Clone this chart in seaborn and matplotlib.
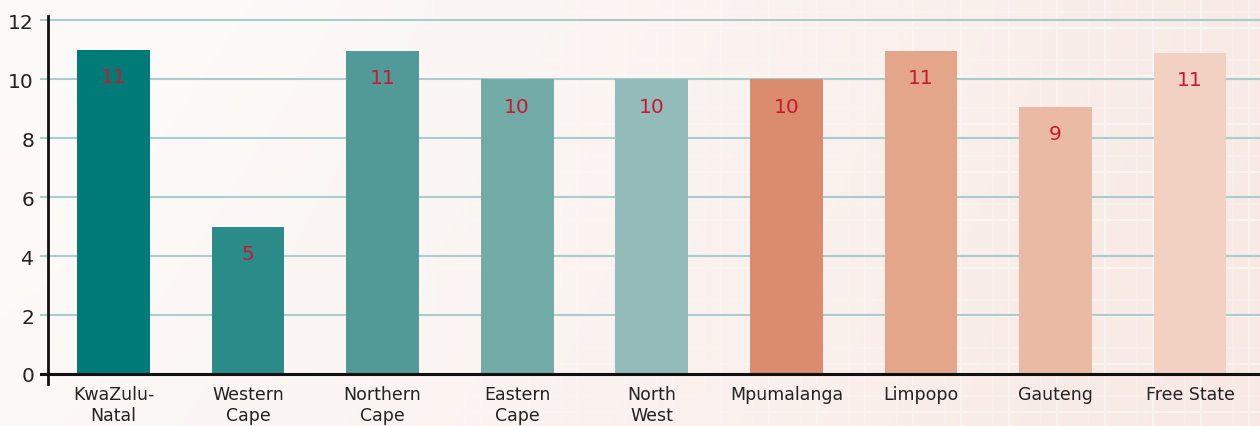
import numpy as np
import pandas as pd
import matplotlib
matplotlib.use("Agg")
import matplotlib.pyplot as plt
import seaborn as sns

# Provinces and their values
provinces = ["KwaZulu-\nNatal", "Western\nCape", "Northern\nCape", "Eastern\nCape",
             "North\nWest", "Mpumalanga", "Limpopo", "Gauteng", "Free State"]
values = [11.0, 5.0, 10.96, 10.0, 10.0, 10.0, 10.96, 9.06, 10.9]
bar_colors = ["#007b78", "#2a8b89", "#519a98", "#72aba7", "#93bbb9",
              "#db8c6e", "#e3a68a", "#ebbaa4", "#f2d1c3"]
y_ticks = [0, 2, 4, 6, 8, 10, 12]

sns.set_theme(style="white")
plt.rcParams["font.family"] = ["DejaVu Sans"]

W, H = 1260, 427
fig = plt.figure(figsize=(W / 100, H / 100), dpi=100)

# Soft warm gradient backdrop with a faint plaid weave towards the right
bg_ax = fig.add_axes([0, 0, 1, 1], zorder=0)
xx = np.linspace(0, 1, W)[None, :]
yy = np.linspace(0, 1, H)[:, None]
left_c = np.array([253, 251, 250]) / 255
right_c = np.array([248, 233, 228]) / 255
t = np.clip(xx ** 1.3 * 0.9 + yy * 0.15, 0, 1)
img = left_c[None, None, :] * (1 - t[..., None]) + right_c[None, None, :] * t[..., None]
weave = np.zeros((H, W))
xs = np.arange(W)
ys = np.arange(H)
for off, a in [(0, 1.0), (16, 0.4)]:
    vmask = (((xs + off) % 48) < 2).astype(float) * a
    hmask = (((ys + off + 20) % 48) < 2).astype(float) * a
    weave = np.maximum(weave, vmask[None, :])
    weave = np.maximum(weave, hmask[:, None])
weave *= np.clip((xx - 0.3) / 0.6, 0, 1) * 0.45
img = img * (1 - weave[..., None]) + weave[..., None] * 1.0
bg_ax.imshow(img, aspect="auto", extent=[0, 1, 0, 1])
bg_ax.axis("off")

# Main chart axes
ax = fig.add_axes([40 / W, 1 - 385 / H, 1 - 40 / W, (385 - 17) / H], zorder=1)
ax.patch.set_alpha(0)

df = pd.DataFrame({"province": provinces, "value": values})
sns.barplot(data=df, x="province", y="value", hue="province",
            palette=bar_colors, width=0.54, saturation=1, legend=False, ax=ax,
            linewidth=0, zorder=3)

for i, v in enumerate(values):
    ax.annotate(f"{v:.0f}", (i, v), xytext=(0, -19.5), textcoords="offset points",
                ha="center", va="center", fontsize=14.5, color="#c8192e", zorder=4)

ax.set_xlim(-0.546, 8.52)
ax.set_ylim(-0.34, 12.14)
ax.set_yticks(y_ticks)
ax.set_yticklabels([str(v) for v in y_ticks])
ax.tick_params(axis="y", length=0, pad=10, labelsize=14.5, labelcolor="#222222")
ax.tick_params(axis="x", length=0, pad=1, labelsize=12.5, labelcolor="#222222")
for lab in ax.get_xticklabels():
    lab.set_linespacing(1.2)
ax.set_xlabel("")
ax.set_ylabel("")

ax.yaxis.grid(True, color="#a8cdcc", linewidth=1.5, zorder=1)
ax.set_axisbelow(True)

for side in ["top", "right", "bottom"]:
    ax.spines[side].set_visible(False)
ax.spines["left"].set_position(("data", -0.487))
ax.spines["left"].set_color("#111111")
ax.spines["left"].set_linewidth(2.0)
ax.spines["left"].set_zorder(5)
ax.axhline(0, color="#111111", linewidth=2.2, zorder=5)

fig.savefig("out.png", dpi=100)
